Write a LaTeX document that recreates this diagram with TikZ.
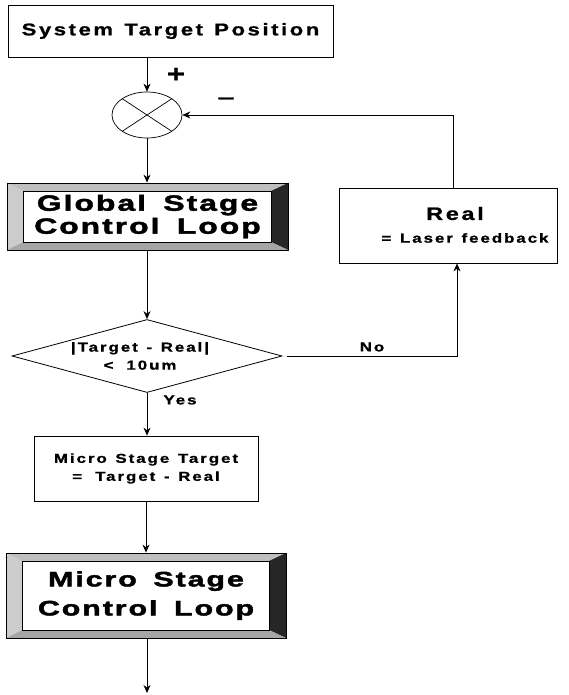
\documentclass[tikz,border=0pt]{standalone}
\usepackage{fontspec}
\setmainfont{Liberation Sans}
\newfontfamily\fW{Liberation Sans}[FakeStretch=1.3,LetterSpace=15,FakeBold=1,WordSpace=1.3]
\newfontfamily\fH{Liberation Sans}[FakeStretch=1.45,LetterSpace=9,FakeBold=2,WordSpace=1.6]
\usetikzlibrary{shapes.geometric,arrows.meta}
\begin{document}
\begin{tikzpicture}[x=1pt,y=-1pt,line width=0.7pt,
  arr/.style={-{Stealth[length=8pt,width=7pt]},line width=0.7pt},
  box/.style={draw,line width=0.8pt,fill=white,inner sep=0pt,align=center},
  lbl/.style={inner sep=0pt,align=center,font=\fW\bfseries\fontsize{13}{18}\selectfont},
  bevel/.style={draw,line width=0.8pt,fill=white,inner sep=0pt,align=center,
    path picture={
      \fill[gray!50] (path picture bounding box.north west) -- (path picture bounding box.north east)
        -- ([shift={(-17pt,-8pt)}]path picture bounding box.north east)
        -- ([shift={(16pt,-8pt)}]path picture bounding box.north west) -- cycle;
      \fill[gray!40] (path picture bounding box.north west)
        -- ([shift={(16pt,-8pt)}]path picture bounding box.north west)
        -- ([shift={(16pt,8pt)}]path picture bounding box.south west)
        -- (path picture bounding box.south west) -- cycle;
      \fill[black!85] (path picture bounding box.north east) -- (path picture bounding box.south east)
        -- ([shift={(-17pt,8pt)}]path picture bounding box.south east)
        -- ([shift={(-17pt,-8pt)}]path picture bounding box.north east) -- cycle;
      \fill[gray!70] (path picture bounding box.south west) -- (path picture bounding box.south east)
        -- ([shift={(-17pt,8pt)}]path picture bounding box.south east)
        -- ([shift={(16pt,8pt)}]path picture bounding box.south west) -- cycle;
      \draw[line width=0.8pt] ([shift={(16pt,-8pt)}]path picture bounding box.north west)
        rectangle ([shift={(-17pt,8pt)}]path picture bounding box.south east);
    }},
  sumst/.style={draw,ellipse,line width=0.7pt,inner sep=0pt,
    path picture={\draw[line width=0.7pt] (path picture bounding box.north west) -- (path picture bounding box.south east)
      (path picture bounding box.south west) -- (path picture bounding box.north east);}}
]
\useasboundingbox[fill=white] (0,0) rectangle (568,695);

\node[box,minimum width=325,minimum height=52,font=\fW\bfseries\fontsize{17}{20}\selectfont] (stp) at (170.5,31) {System Target Position};
\node[sumst,minimum width=70,minimum height=46] (sum) at (147,115) {};
\node[inner sep=0pt,font=\fW\bfseries\fontsize{24}{24}\selectfont] (plus) at (176,75) {+};
\node[inner sep=0pt,font=\fW\fontsize{24}{24}\selectfont] (minus) at (226,102) {−};

\node[bevel,minimum width=281,minimum height=67,font=\fH\bfseries\fontsize{22}{23}\selectfont] (gsc) at (147.5,216.5) {Global Stage\\Control Loop};

\node[box,minimum width=218,minimum height=75] (real) at (448,225.5) {};
\node[lbl,font=\fW\bfseries\fontsize{18}{18}\selectfont] (realA) at (455,213.5) {Real};
\node[lbl] (realB) at (465,238) {= Laser feedback};

\node[draw,diamond,line width=0.8pt,inner sep=0pt,minimum width=270,minimum height=73] (dia) at (147,356) {};
\node[lbl] (diat) at (140,356) {|\,Target - Real\,|\\<\quad 10um};
\node[lbl] (no) at (372,347) {No};
\node[lbl] (yes) at (180,400) {Yes};

\node[box,minimum width=224,minimum height=65,font=\fW\bfseries\fontsize{13}{18}\selectfont] (mtgt) at (146,468.5) {Micro Stage Target\\=\quad Target - Real};

\node[bevel,minimum width=280,minimum height=85,font=\fH\bfseries\fontsize{21}{29}\selectfont] (msc) at (146,595.5) {Micro Stage\\Control Loop};
\coordinate (fin) at (147,693);

\draw[arr] (stp.south -| sum.north) -- (sum.north);
\draw[arr] ([xshift=5pt]real.north) |- (sum.east);
\draw[arr] (sum.south) -- (sum.south |- gsc.north);
\draw[arr] (gsc.south -| dia.north) -- (dia.north);
\draw[arr] ([xshift=5pt]dia.east) -| ([xshift=9pt]real.south);
\draw[arr] (dia.south) -- (dia.south |- mtgt.north);
\draw[arr] (mtgt.south -| msc.north) -- (msc.north);
\draw[arr] (msc.south -| fin) -- (fin);
\end{tikzpicture}
\end{document}
